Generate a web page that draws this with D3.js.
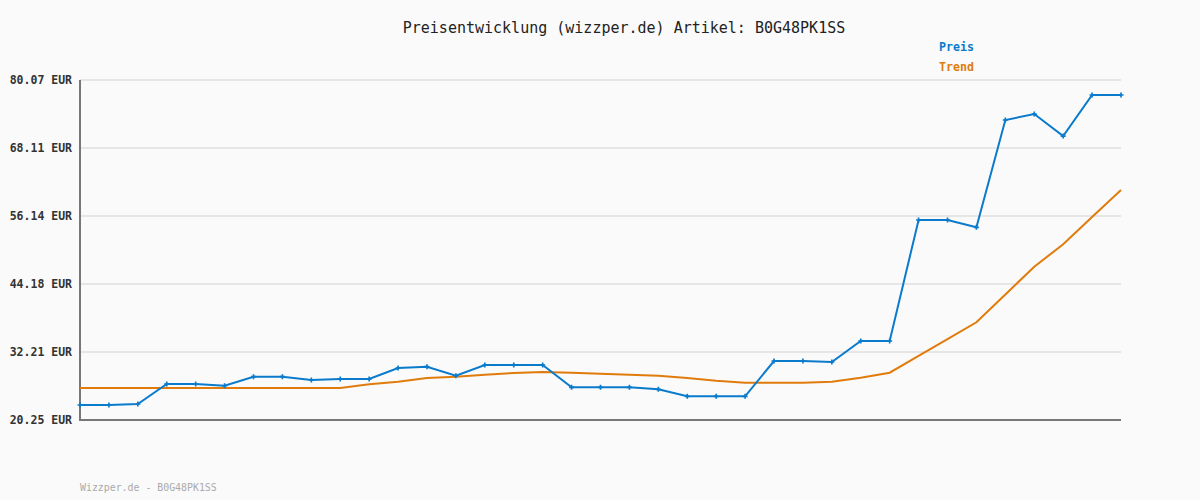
<!DOCTYPE html>
<html>
<head>
<meta charset="utf-8">
<script src="https://cdn.jsdelivr.net/npm/d3@7"></script>
<style>
  body { margin: 0; background: #fafafa; }
  svg { display: block; }
  text { font-family: "DejaVu Sans Mono", "Liberation Mono", monospace; }
</style>
</head>
<body>
<div id="chart"></div>
<script>
// data
var title_text = "Preisentwicklung (wizzper.de) Artikel: B0G48PK1SS";
var footer_text = "Wizzper.de - B0G48PK1SS";
var series_names = ["Preis", "Trend"];
var y_ticks = [20.25, 32.21, 44.18, 56.14, 68.11, 80.07];

var preis = [22.89, 22.9, 23.07, 26.58, 26.58, 26.28, 27.87, 27.87, 27.29, 27.46,
    27.46, 29.4, 29.63, 28.04, 29.93, 29.93, 29.93, 26.0, 26.0, 26.0,
    25.65, 24.42, 24.42, 24.42, 30.63, 30.63, 30.45, 34.15, 34.15, 55.44,
    55.44, 54.15, 73.03, 74.08, 70.21, 77.43, 77.43];

var trend = [25.9, 25.9, 25.9, 25.9, 25.9, 25.9, 25.9, 25.9, 25.9, 25.9,
    26.53, 26.99, 27.64, 27.87, 28.22, 28.52, 28.7, 28.57, 28.4, 28.22,
    28.04, 27.64, 27.16, 26.81, 26.81, 26.81, 26.99, 27.7, 28.57, 31.53,
    34.48, 37.44, 42.33, 47.22, 51.16, 55.96, 60.71];

var width = 1200, height = 500;
var margin = { top: 80, right: 79, bottom: 80, left: 80 };
var blue = "#0a7bcc", orange = "#e07b0c";

var svg = d3.select("#chart").append("svg")
    .attr("width", width)
    .attr("height", height);

svg.append("rect")
    .attr("width", width).attr("height", height)
    .attr("fill", "#fafafa");

var x = d3.scaleLinear()
    .domain([0, preis.length - 1])
    .range([margin.left, width - margin.right]);

var y = d3.scaleLinear()
    .domain([y_ticks[0], y_ticks[y_ticks.length - 1]])
    .range([height - margin.bottom, margin.top]);

// grid
svg.append("g").selectAll("line")
    .data(y_ticks.slice(1))
    .enter().append("line")
    .attr("x1", margin.left)
    .attr("x2", width - margin.right)
    .attr("y1", function(d) { return y(d); })
    .attr("y2", function(d) { return y(d); })
    .attr("stroke", "#e6e6e6")
    .attr("stroke-width", 2);

// y axis
var yAxis = d3.axisLeft(y)
    .tickValues(y_ticks)
    .tickSize(0)
    .tickPadding(8)
    .tickFormat(function(d) { return d.toFixed(2) + " EUR"; });

var gy = svg.append("g")
    .attr("transform", "translate(" + margin.left + ",0)")
    .call(yAxis);
gy.select(".domain").remove();
gy.selectAll("text")
    .attr("font-family", "DejaVu Sans Mono, monospace")
    .attr("font-size", "11.5px")
    .attr("font-weight", "bold")
    .attr("fill", "#333")
    .attr("dy", "0.3em");

// axis lines
svg.append("line")
    .attr("x1", margin.left).attr("x2", margin.left)
    .attr("y1", margin.top).attr("y2", height - margin.bottom + 1)
    .attr("stroke", "#777").attr("stroke-width", 2);
svg.append("line")
    .attr("x1", margin.left - 1).attr("x2", width - margin.right)
    .attr("y1", height - margin.bottom).attr("y2", height - margin.bottom)
    .attr("stroke", "#777").attr("stroke-width", 2);

var line = d3.line()
    .x(function(d, i) { return x(i); })
    .y(function(d) { return y(d); });

svg.append("path")
    .datum(trend)
    .attr("d", line)
    .attr("fill", "none")
    .attr("stroke", orange)
    .attr("stroke-width", 2);

svg.append("path")
    .datum(preis)
    .attr("d", line)
    .attr("fill", "none")
    .attr("stroke", blue)
    .attr("stroke-width", 2);

svg.append("g").selectAll("path")
    .data(preis)
    .enter().append("path")
    .attr("d", d3.symbol().type(d3.symbolCross).size(14))
    .attr("transform", function(d, i) { return "translate(" + x(i) + "," + y(d) + ")"; })
    .attr("fill", blue);

// title
svg.append("text")
    .attr("x", 624)
    .attr("y", 33)
    .attr("text-anchor", "middle")
    .attr("font-size", "15px")
    .attr("fill", "#222")
    .text(title_text);

// legend
svg.append("g").selectAll("text")
    .data(series_names)
    .enter().append("text")
    .attr("x", 939)
    .attr("y", function(d, i) { return 51 + i * 20; })
    .attr("font-size", "11.6px")
    .attr("font-weight", "bold")
    .attr("fill", function(d, i) { return i == 0 ? blue : orange; })
    .text(function(d) { return d; });

// footer
svg.append("text")
    .attr("x", 80)
    .attr("y", 491)
    .attr("font-size", "9.9px")
    .attr("fill", "#aaa")
    .text(footer_text);
</script>
</body>
</html>
